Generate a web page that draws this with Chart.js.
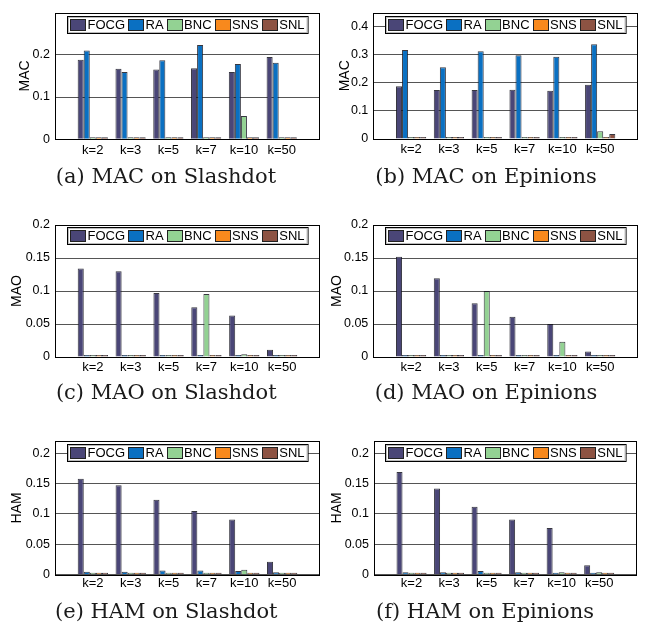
<!DOCTYPE html>
<html>
<head>
<meta charset="utf-8">
<script src="https://cdn.jsdelivr.net/npm/chart.js@4.4.1/dist/chart.umd.min.js"></script>
<style>
  html, body { margin: 0; padding: 0; background: #fff; }
  body { width: 651px; height: 629px; position: relative; overflow: hidden; }
  canvas { position: absolute; }
</style>
</head>
<body>
<canvas id="c0"></canvas>
<canvas id="c1"></canvas>
<canvas id="c2"></canvas>
<canvas id="c3"></canvas>
<canvas id="c4"></canvas>
<canvas id="c5"></canvas>
<script>
// ---------------- DATA ----------------
const categories = ['k=2', 'k=3', 'k=5', 'k=7', 'k=10', 'k=50'];
const methods = ['FOCG', 'RA', 'BNC', 'SNS', 'SNL'];

// (a) MAC on Slashdot
const macSlashdotFOCG = [0.188, 0.167, 0.165, 0.168, 0.159, 0.195];
const macSlashdotRA   = [0.210, 0.159, 0.187, 0.223, 0.178, 0.181];
const macSlashdotBNC  = [0.002, 0.001, 0.001, 0.001, 0.055, 0.002];
const macSlashdotSNS  = [0.001, 0.001, 0.002, 0.002, 0.002, 0.004];
const macSlashdotSNL  = [0.001, 0.001, 0.002, 0.002, 0.002, 0.003];

// (b) MAC on Epinions
const macEpinionsFOCG = [0.188, 0.174, 0.174, 0.175, 0.172, 0.193];
const macEpinionsRA   = [0.317, 0.255, 0.312, 0.298, 0.293, 0.337];
const macEpinionsBNC  = [0.001, 0.001, 0.001, 0.001, 0.002, 0.028];
const macEpinionsSNS  = [0.001, 0.002, 0.001, 0.001, 0.002, 0.003];
const macEpinionsSNL  = [0.001, 0.001, 0.001, 0.001, 0.001, 0.018];

// (c) MAO on Slashdot
const maoSlashdotFOCG = [0.134, 0.130, 0.097, 0.0755, 0.063, 0.011];
const maoSlashdotRA   = [0.002, 0.002, 0.003, 0.003, 0.003, 0.002];
const maoSlashdotBNC  = [0.001, 0.002, 0.002, 0.0955, 0.004, 0.002];
const maoSlashdotSNS  = [0.002, 0.002, 0.001, 0.001, 0.001, 0.001];
const maoSlashdotSNL  = [0.002, 0.002, 0.002, 0.002, 0.002, 0.001];

// (d) MAO on Epinions
const maoEpinionsFOCG = [0.152, 0.1195, 0.0815, 0.061, 0.050, 0.0085];
const maoEpinionsRA   = [0.002, 0.001, 0.002, 0.002, 0.001, 0.001];
const maoEpinionsBNC  = [0.001, 0.001, 0.100, 0.002, 0.023, 0.002];
const maoEpinionsSNS  = [0.002, 0.001, 0.001, 0.002, 0.001, 0.002];
const maoEpinionsSNL  = [0.001, 0.002, 0.001, 0.002, 0.001, 0.001];

// (e) HAM on Slashdot
const hamSlashdotFOCG = [0.158, 0.147, 0.1235, 0.105, 0.091, 0.0215];
const hamSlashdotRA   = [0.005, 0.005, 0.007, 0.007, 0.006, 0.004];
const hamSlashdotBNC  = [0.001, 0.001, 0.001, 0.001, 0.008, 0.002];
const hamSlashdotSNS  = [0.001, 0.002, 0.001, 0.001, 0.002, 0.002];
const hamSlashdotSNL  = [0.001, 0.002, 0.002, 0.003, 0.001, 0.001];

// (f) HAM on Epinions
const hamEpinionsFOCG = [0.169, 0.142, 0.112, 0.091, 0.077, 0.0155];
const hamEpinionsRA   = [0.004, 0.004, 0.006, 0.004, 0.002, 0.002];
const hamEpinionsBNC  = [0.001, 0.001, 0.003, 0.001, 0.004, 0.004];
const hamEpinionsSNS  = [0.001, 0.001, 0.001, 0.001, 0.002, 0.002];
const hamEpinionsSNL  = [0.001, 0.002, 0.001, 0.002, 0.002, 0.003];

// tick labels
const macSlashdotTicks = [0, 0.1, 0.2];
const macEpinionsTicks = [0, 0.1, 0.2, 0.3, 0.4];
const maoTicks = [0, 0.05, 0.1, 0.15, 0.2];
const hamTicks = [0, 0.05, 0.1, 0.15, 0.2];

// ---------------- STYLE / LAYOUT ----------------
const colors = ['#4a4677', '#0a70c2', '#93d293', '#f8891d', '#8d5343'];

const panels = [
  { id: 'c0', caption: '(a) MAC on Slashdot', yTitle: 'MAC', ymax: 0.3,
    series: [macSlashdotFOCG, macSlashdotRA, macSlashdotBNC, macSlashdotSNS, macSlashdotSNL], ticks: macSlashdotTicks,
    L: 0, T: 0, W: 325, H: 205, padL: 12.5, padR: 5.5, padT: 6, padB: 14.9, yW: 42.5, yTitlePad: 4.1, xPad: 3, capPad: 5.6, legTop: 3 },
  { id: 'c1', caption: '(b) MAC on Epinions', yTitle: 'MAC', ymax: 0.45,
    series: [macEpinionsFOCG, macEpinionsRA, macEpinionsBNC, macEpinionsSNS, macEpinionsSNL], ticks: macEpinionsTicks,
    L: 325, T: 0, W: 326, H: 205, padL: 9, padR: 13, padT: 6, padB: 15.2, yW: 39.3, yTitlePad: 2.6, xPad: 3, capPad: 5.6, legTop: 3 },
  { id: 'c2', caption: '(c) MAO on Slashdot', yTitle: 'MAO', ymax: 0.2,
    series: [maoSlashdotFOCG, maoSlashdotRA, maoSlashdotBNC, maoSlashdotSNS, maoSlashdotSNL], ticks: maoTicks,
    L: 0, T: 205, W: 325, H: 210, padL: 12.5, padR: 5, padT: 20, padB: 8.4, yW: 42.5, yTitlePad: -3.9, xPad: 3, capPad: 4.4, legTop: 2 },
  { id: 'c3', caption: '(d) MAO on Epinions', yTitle: 'MAO', ymax: 0.2,
    series: [maoEpinionsFOCG, maoEpinionsRA, maoEpinionsBNC, maoEpinionsSNS, maoEpinionsSNL], ticks: maoTicks,
    L: 325, T: 205, W: 326, H: 210, padL: 9, padR: 13, padT: 20, padB: 8.4, yW: 39.3, yTitlePad: -5.4, xPad: 3, capPad: 4.4, legTop: 2 },
  { id: 'c4', caption: '(e) HAM on Slashdot', yTitle: 'HAM', ymax: 0.22,
    series: [hamSlashdotFOCG, hamSlashdotRA, hamSlashdotBNC, hamSlashdotSNS, hamSlashdotSNL], ticks: hamTicks,
    L: 0, T: 415, W: 325, H: 214, padL: 12.5, padR: 5, padT: 26, padB: 3.9, yW: 42.5, yTitlePad: -3.4, xPad: 1.2, capPad: 5.2, legTop: 3 },
  { id: 'c5', caption: '(f) HAM on Epinions', yTitle: 'HAM', ymax: 0.22,
    series: [hamEpinionsFOCG, hamEpinionsRA, hamEpinionsBNC, hamEpinionsSNS, hamEpinionsSNL], ticks: hamTicks,
    L: 325, T: 415, W: 326, H: 214, padL: 8.3, padR: 14.3, padT: 26, padB: 3.9, yW: 40.7, yTitlePad: -4.7, xPad: 1.2, capPad: 5.2, legTop: 3 }
];

const SANS = '"Liberation Sans", Arial, Helvetica, sans-serif';
const SERIF = '"DejaVu Serif", "Liberation Serif", serif';

// plot frame + boxed legend inside the plot area
const framePlugin = {
  id: 'frame',
  afterDatasetsDraw(chart, args, opts) {
    const ctx = chart.ctx;
    const a = chart.chartArea;
    ctx.save();
    // frame
    ctx.strokeStyle = '#000';
    ctx.lineWidth = 1;
    const l = Math.round(a.left) + 0.5, t = Math.round(a.top) + 0.5;
    const r = Math.round(a.right) - 0.5, b = Math.round(a.bottom) + 0.5;
    ctx.strokeRect(l, t, r - l, b - t);

    // legend
    ctx.font = '13px ' + SANS;
    const items = chart.data.datasets.map(ds => ({ text: ds.label, color: ds.backgroundColor, w: ctx.measureText(ds.label).width }));
    const sq = 16, sqH = 12, gapText = 1.5, gapItem = 3, pad = 3, h = 17;
    let total = pad * 2;
    items.forEach((it, i) => { total += sq + gapText + it.w + (i < items.length - 1 ? gapItem : 0); });
    const lx = Math.round((a.left + a.right) / 2 - total / 2) + 0.5;
    const ly = Math.round(a.top + opts.top) + 0.5;
    ctx.fillStyle = '#fff';
    ctx.fillRect(lx, ly, total, h);
    ctx.strokeStyle = '#000';
    ctx.strokeRect(lx, ly, total, h);
    ctx.strokeStyle = '#bbb';
    ctx.strokeRect(lx + 1, ly + 1, total - 2, h - 2);
    let x = lx - 0.5 + pad;
    items.forEach(it => {
      const sy = Math.round(ly + (h - sqH) / 2);
      ctx.fillStyle = it.color;
      ctx.fillRect(Math.round(x), sy, sq, sqH);
      ctx.strokeStyle = '#222';
      ctx.strokeRect(Math.round(x) + 0.5, sy + 0.5, sq - 1, sqH - 1);
      x += sq + gapText;
      ctx.fillStyle = '#000';
      ctx.textBaseline = 'middle';
      ctx.textAlign = 'left';
      ctx.fillText(it.text, x, ly + h / 2 + 0.5);
      x += it.w + gapItem;
    });
    ctx.restore();
  }
};

panels.forEach(p => {
  const cv = document.getElementById(p.id);
  cv.width = p.W; cv.height = p.H;
  cv.style.left = p.L + 'px'; cv.style.top = p.T + 'px';
  cv.style.width = p.W + 'px'; cv.style.height = p.H + 'px';

  const labels = [''].concat(categories).concat(['']);
  const datasets = methods.map((m, i) => ({
    label: m,
    data: [null].concat(p.series[i]).concat([null]),
    backgroundColor: colors[i],
    borderColor: 'rgba(20,20,30,0.85)',
    borderWidth: 1,
    minBarLength: 2,
    categoryPercentage: 0.8,
    barPercentage: 1.0
  }));

  new Chart(cv, {
    type: 'bar',
    data: { labels, datasets },
    plugins: [framePlugin],
    options: {
      responsive: false,
      animation: false,
      devicePixelRatio: 1,
      layout: { padding: { left: p.padL, right: p.padR, top: p.padT, bottom: p.padB } },
      plugins: {
        legend: { display: false },
        tooltip: { enabled: false },
        frame: { top: p.legTop },
        title: {
          display: true, position: 'bottom', text: p.caption, color: '#1a1a1a',
          font: { family: SERIF, size: 21, weight: 'normal', lineHeight: 1.2 },
          padding: { top: p.capPad, bottom: 0 }
        }
      },
      scales: {
        x: {
          type: 'category', offset: false,
          grid: { display: false, drawTicks: false },
          border: { display: false },
          ticks: { autoSkip: false, maxRotation: 0, minRotation: 0, padding: p.xPad, color: '#000',
                   font: { family: SANS, size: 13 } },
          afterFit: s => { s.height = 20; }
        },
        y: {
          min: 0, max: p.ymax,
          afterBuildTicks: s => { s.ticks = p.ticks.map(v => ({ value: v })); },
          grid: { color: '#555', lineWidth: 1, drawTicks: false },
          border: { display: false },
          ticks: { padding: 5, color: '#000', font: { family: SANS, size: 12.5 }, callback: v => String(v) },
          title: { display: true, text: p.yTitle, color: '#000', font: { family: SANS, size: 14, lineHeight: 1.2 },
                   padding: { top: p.yTitlePad, bottom: 0 } },
          afterFit: s => { s.width = p.yW; }
        }
      }
    }
  });
});
</script>
</body>
</html>
